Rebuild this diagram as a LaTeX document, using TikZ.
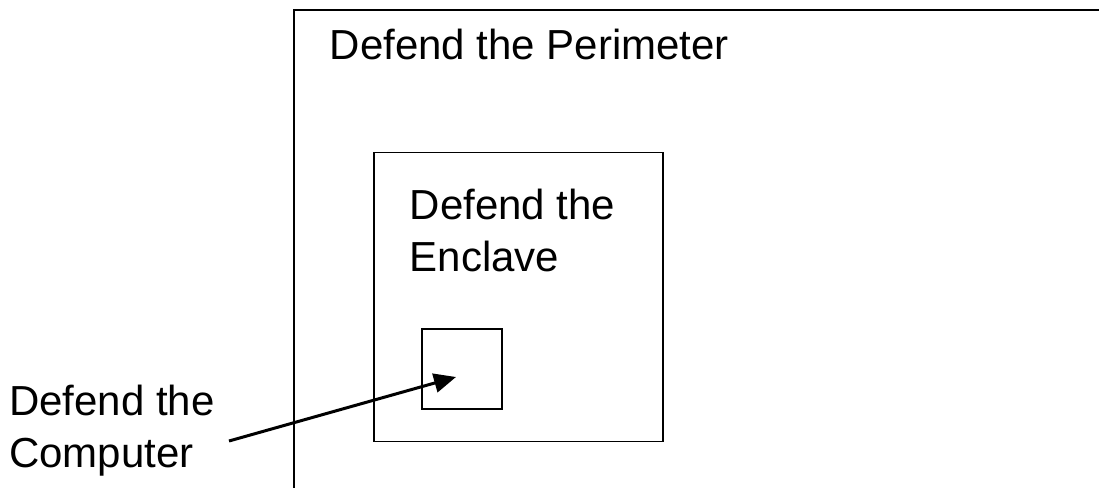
\documentclass[tikz,border=0pt]{standalone}
\usepackage{fontspec}
\setmainfont{Liberation Sans}
\usetikzlibrary{arrows.meta}

\tikzset{
  label/.style={inner sep=0pt, anchor=base west, align=left, font=\fontsize{42}{52}\selectfont},
  zone/.style={draw, line width=1.7pt, minimum width=#1, minimum height=#1, inner sep=0pt}
}

\begin{document}
\begin{tikzpicture}[x=1pt, y=-1pt]
  \path[use as bounding box, clip] (0,0) rectangle (1099,487);

  % outer area, runs off the page
  \draw[line width=2pt] (294,10) rectangle (1130,520);
  \node[zone=289pt] (enclavebox) at (518.5,297) {};
  \node[zone=80pt] (computerbox) at (462,369) {};

  \node[label] (perimeter) at (329.5,59.5) {Defend the Perimeter};
  \node[label] (enclave) at (409.5,271) {Defend the\\Enclave};
  \node[label] (computer) at (9,467) {Defend the\\Computer};

  \coordinate (tail) at (229,441);
  \coordinate (tip) at (456,377);
  \draw[line width=3pt, -{Triangle[length=22pt, width=19pt]}] (tail) -- (tip);
\end{tikzpicture}
\end{document}
